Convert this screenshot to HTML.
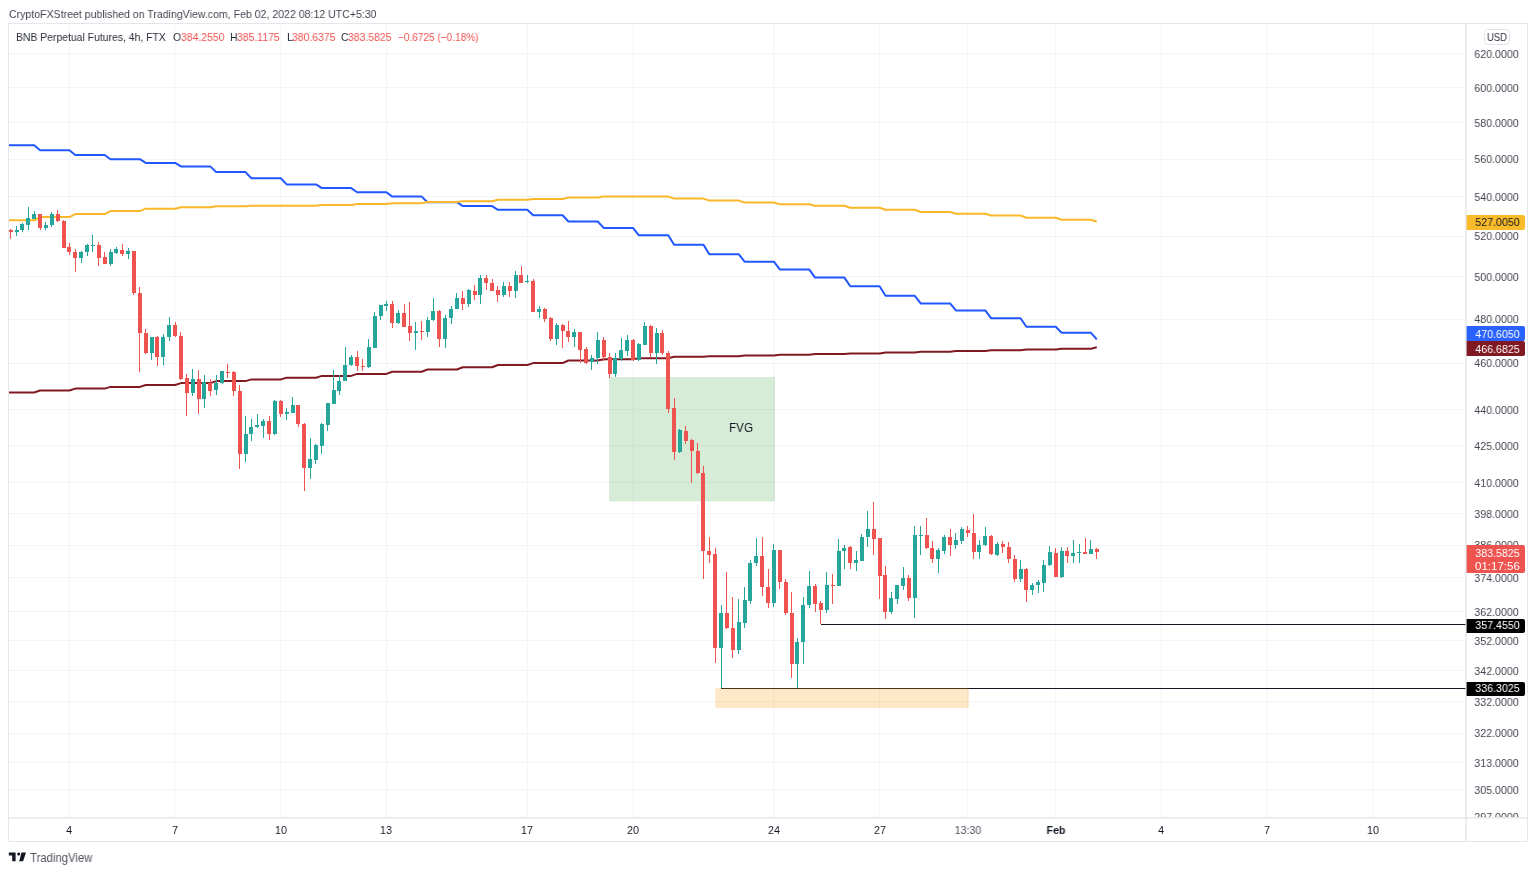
<!DOCTYPE html>
<html><head><meta charset="utf-8"><style>
*{margin:0;padding:0;box-sizing:border-box}
html,body{width:1536px;height:873px;background:#fff;overflow:hidden;font-family:"Liberation Sans",sans-serif;color:#131722}
.t{position:absolute;white-space:nowrap;will-change:transform}
</style></head><body>
<svg width="1536" height="873" style="position:absolute;left:0;top:0">
<line x1="9" x2="1466" y1="53.5" y2="53.5" stroke="#f3f4f6" stroke-width="1"/><line x1="9" x2="1466" y1="87.5" y2="87.5" stroke="#f3f4f6" stroke-width="1"/><line x1="9" x2="1466" y1="122.5" y2="122.5" stroke="#f3f4f6" stroke-width="1"/><line x1="9" x2="1466" y1="159.5" y2="159.5" stroke="#f3f4f6" stroke-width="1"/><line x1="9" x2="1466" y1="196.5" y2="196.5" stroke="#f3f4f6" stroke-width="1"/><line x1="9" x2="1466" y1="236.5" y2="236.5" stroke="#f3f4f6" stroke-width="1"/><line x1="9" x2="1466" y1="276.5" y2="276.5" stroke="#f3f4f6" stroke-width="1"/><line x1="9" x2="1466" y1="319.5" y2="319.5" stroke="#f3f4f6" stroke-width="1"/><line x1="9" x2="1466" y1="363.5" y2="363.5" stroke="#f3f4f6" stroke-width="1"/><line x1="9" x2="1466" y1="409.5" y2="409.5" stroke="#f3f4f6" stroke-width="1"/><line x1="9" x2="1466" y1="445.5" y2="445.5" stroke="#f3f4f6" stroke-width="1"/><line x1="9" x2="1466" y1="482.5" y2="482.5" stroke="#f3f4f6" stroke-width="1"/><line x1="9" x2="1466" y1="513.5" y2="513.5" stroke="#f3f4f6" stroke-width="1"/><line x1="9" x2="1466" y1="545.5" y2="545.5" stroke="#f3f4f6" stroke-width="1"/><line x1="9" x2="1466" y1="577.5" y2="577.5" stroke="#f3f4f6" stroke-width="1"/><line x1="9" x2="1466" y1="611.5" y2="611.5" stroke="#f3f4f6" stroke-width="1"/><line x1="9" x2="1466" y1="640.5" y2="640.5" stroke="#f3f4f6" stroke-width="1"/><line x1="9" x2="1466" y1="670.5" y2="670.5" stroke="#f3f4f6" stroke-width="1"/><line x1="9" x2="1466" y1="701.5" y2="701.5" stroke="#f3f4f6" stroke-width="1"/><line x1="9" x2="1466" y1="733.5" y2="733.5" stroke="#f3f4f6" stroke-width="1"/><line x1="9" x2="1466" y1="762.5" y2="762.5" stroke="#f3f4f6" stroke-width="1"/><line x1="9" x2="1466" y1="789.5" y2="789.5" stroke="#f3f4f6" stroke-width="1"/><line x1="9" x2="1466" y1="817.5" y2="817.5" stroke="#f3f4f6" stroke-width="1"/>
<line x1="69.41" x2="69.41" y1="24" y2="818" stroke="#f3f4f6" stroke-width="1"/><line x1="175.09" x2="175.09" y1="24" y2="818" stroke="#f3f4f6" stroke-width="1"/><line x1="280.77" x2="280.77" y1="24" y2="818" stroke="#f3f4f6" stroke-width="1"/><line x1="386.44" x2="386.44" y1="24" y2="818" stroke="#f3f4f6" stroke-width="1"/><line x1="527.35" x2="527.35" y1="24" y2="818" stroke="#f3f4f6" stroke-width="1"/><line x1="633.03" x2="633.03" y1="24" y2="818" stroke="#f3f4f6" stroke-width="1"/><line x1="773.93" x2="773.93" y1="24" y2="818" stroke="#f3f4f6" stroke-width="1"/><line x1="879.61" x2="879.61" y1="24" y2="818" stroke="#f3f4f6" stroke-width="1"/><line x1="967.67" x2="967.67" y1="24" y2="818" stroke="#f3f4f6" stroke-width="1"/><line x1="1055.74" x2="1055.74" y1="24" y2="818" stroke="#f3f4f6" stroke-width="1"/><line x1="1161.42" x2="1161.42" y1="24" y2="818" stroke="#f3f4f6" stroke-width="1"/><line x1="1267.09" x2="1267.09" y1="24" y2="818" stroke="#f3f4f6" stroke-width="1"/><line x1="1372.77" x2="1372.77" y1="24" y2="818" stroke="#f3f4f6" stroke-width="1"/>
<rect x="609" y="377" width="166" height="124.5" fill="rgb(76,175,80)" fill-opacity="0.23"/>
<polyline points="8.5,145.3 10.7,145.3 16.6,145.3 22.4,145.3 28.3,145.3 34.2,145.3 40.1,150.3 45.9,150.3 51.8,150.3 57.7,150.3 63.5,150.3 69.4,150.3 75.3,155.0 81.2,155.0 87.0,155.0 92.9,155.0 98.8,155.0 104.6,155.0 110.5,159.2 116.4,159.2 122.2,159.2 128.1,159.2 134.0,159.2 139.9,159.2 145.7,162.9 151.6,162.9 157.5,162.9 163.3,162.9 169.2,162.9 175.1,162.9 181.0,166.4 186.8,166.4 192.7,166.4 198.6,166.4 204.4,166.4 210.3,166.4 216.2,172.1 222.1,172.1 227.9,172.1 233.8,172.1 239.7,172.1 245.5,172.1 251.4,178.2 257.3,178.2 263.2,178.2 269.0,178.2 274.9,178.2 280.8,178.2 286.6,184.4 292.5,184.4 298.4,184.4 304.2,184.4 310.1,184.4 316.0,184.4 321.9,188.1 327.7,188.1 333.6,188.1 339.5,188.1 345.3,188.1 351.2,188.1 357.1,192.2 363.0,192.2 368.8,192.2 374.7,192.2 380.6,192.2 386.4,192.2 392.3,196.6 398.2,196.6 404.1,196.6 409.9,196.6 415.8,196.6 421.7,196.6 427.5,202.2 433.4,202.2 439.3,202.2 445.2,202.2 451.0,202.2 456.9,202.2 462.8,206.1 468.6,206.1 474.5,206.1 480.4,206.1 486.3,206.1 492.1,206.1 498.0,209.8 503.9,209.8 509.7,209.8 515.6,209.8 521.5,209.8 527.3,209.8 533.2,215.3 539.1,215.3 545.0,215.3 550.8,215.3 556.7,215.3 562.6,215.3 568.4,221.5 574.3,221.5 580.2,221.5 586.1,221.5 591.9,221.5 597.8,221.5 603.7,227.9 609.5,227.9 615.4,227.9 621.3,227.9 627.2,227.9 633.0,227.9 638.9,235.3 644.8,235.3 650.6,235.3 656.5,235.3 662.4,235.3 668.3,235.3 674.1,244.7 680.0,244.7 685.9,244.7 691.7,244.7 697.6,244.7 703.5,244.7 709.3,254.2 715.2,254.2 721.1,254.2 727.0,254.2 732.8,254.2 738.7,254.2 744.6,261.7 750.4,261.7 756.3,261.7 762.2,261.7 768.1,261.7 773.9,261.7 779.8,269.4 785.7,269.4 791.5,269.4 797.4,269.4 803.3,269.4 809.2,269.4 815.0,277.6 820.9,277.6 826.8,277.6 832.6,277.6 838.5,277.6 844.4,277.6 850.3,286.3 856.1,286.3 862.0,286.3 867.9,286.3 873.7,286.3 879.6,286.3 885.5,295.8 891.4,295.8 897.2,295.8 903.1,295.8 909.0,295.8 914.8,295.8 920.7,303.4 926.6,303.4 932.4,303.4 938.3,303.4 944.2,303.4 950.1,303.4 955.9,310.4 961.8,310.4 967.7,310.4 973.5,310.4 979.4,310.4 985.3,310.4 991.2,318.3 997.0,318.3 1002.9,318.3 1008.8,318.3 1014.6,318.3 1020.5,318.3 1026.4,326.8 1032.3,326.8 1038.1,326.8 1044.0,326.8 1049.9,326.8 1055.7,326.8 1061.6,332.8 1067.5,332.8 1073.4,332.8 1079.2,332.8 1085.1,332.8 1091.0,332.8 1096.8,339.4" fill="none" stroke="#2157ff" stroke-width="2" stroke-linejoin="round"/>
<polyline points="8.5,220.3 10.7,220.3 16.6,220.3 22.4,220.3 28.3,220.3 34.2,220.3 40.1,217.1 45.9,217.1 51.8,217.1 57.7,217.1 63.5,217.1 69.4,217.1 75.3,214.1 81.2,214.1 87.0,214.1 92.9,214.1 98.8,214.1 104.6,214.1 110.5,211.1 116.4,211.1 122.2,211.1 128.1,211.1 134.0,211.1 139.9,211.1 145.7,208.7 151.6,208.7 157.5,208.7 163.3,208.7 169.2,208.7 175.1,208.7 181.0,207.2 186.8,207.2 192.7,207.2 198.6,207.2 204.4,207.2 210.3,207.2 216.2,206.2 222.1,206.2 227.9,206.2 233.8,206.2 239.7,206.2 245.5,206.2 251.4,205.7 257.3,205.7 263.2,205.7 269.0,205.7 274.9,205.7 280.8,205.7 286.6,205.7 292.5,205.7 298.4,205.7 304.2,205.7 310.1,205.7 316.0,205.7 321.9,205.0 327.7,205.0 333.6,205.0 339.5,205.0 345.3,205.0 351.2,205.0 357.1,204.0 363.0,204.0 368.8,204.0 374.7,204.0 380.6,204.0 386.4,204.0 392.3,203.2 398.2,203.2 404.1,203.2 409.9,203.2 415.8,203.2 421.7,203.2 427.5,201.9 433.4,201.9 439.3,201.9 445.2,201.9 451.0,201.9 456.9,201.9 462.8,201.2 468.6,201.2 474.5,201.2 480.4,201.2 486.3,201.2 492.1,201.2 498.0,199.7 503.9,199.7 509.7,199.7 515.6,199.7 521.5,199.7 527.3,199.7 533.2,199.0 539.1,199.0 545.0,199.0 550.8,199.0 556.7,199.0 562.6,199.0 568.4,197.5 574.3,197.5 580.2,197.5 586.1,197.5 591.9,197.5 597.8,197.5 603.7,196.6 609.5,196.6 615.4,196.6 621.3,196.6 627.2,196.6 633.0,196.6 638.9,196.6 644.8,196.6 650.6,196.6 656.5,196.6 662.4,196.6 668.3,196.6 674.1,198.6 680.0,198.6 685.9,198.6 691.7,198.6 697.6,198.6 703.5,198.6 709.3,200.6 715.2,200.6 721.1,200.6 727.0,200.6 732.8,200.6 738.7,200.6 744.6,202.5 750.4,202.5 756.3,202.5 762.2,202.5 768.1,202.5 773.9,202.5 779.8,204.2 785.7,204.2 791.5,204.2 797.4,204.2 803.3,204.2 809.2,204.2 815.0,205.8 820.9,205.8 826.8,205.8 832.6,205.8 838.5,205.8 844.4,205.8 850.3,207.8 856.1,207.8 862.0,207.8 867.9,207.8 873.7,207.8 879.6,207.8 885.5,209.8 891.4,209.8 897.2,209.8 903.1,209.8 909.0,209.8 914.8,209.8 920.7,212.0 926.6,212.0 932.4,212.0 938.3,212.0 944.2,212.0 950.1,212.0 955.9,213.8 961.8,213.8 967.7,213.8 973.5,213.8 979.4,213.8 985.3,213.8 991.2,215.5 997.0,215.5 1002.9,215.5 1008.8,215.5 1014.6,215.5 1020.5,215.5 1026.4,217.7 1032.3,217.7 1038.1,217.7 1044.0,217.7 1049.9,217.7 1055.7,217.7 1061.6,219.7 1067.5,219.7 1073.4,219.7 1079.2,219.7 1085.1,219.7 1091.0,219.7 1096.8,221.7" fill="none" stroke="#fab72a" stroke-width="2" stroke-linejoin="round"/>
<polyline points="8.5,392.5 10.7,392.5 16.6,392.5 22.4,392.5 28.3,392.5 34.2,392.5 40.1,390.5 45.9,390.5 51.8,390.5 57.7,390.5 63.5,390.5 69.4,390.5 75.3,388.6 81.2,388.6 87.0,388.6 92.9,388.6 98.8,388.6 104.6,388.6 110.5,386.9 116.4,386.9 122.2,386.9 128.1,386.9 134.0,386.9 139.9,386.9 145.7,385.0 151.6,385.0 157.5,385.0 163.3,385.0 169.2,385.0 175.1,385.0 181.0,383.1 186.8,383.1 192.7,383.1 198.6,383.1 204.4,383.1 210.3,383.1 216.2,381.1 222.1,381.1 227.9,381.1 233.8,381.1 239.7,381.1 245.5,381.1 251.4,379.4 257.3,379.4 263.2,379.4 269.0,379.4 274.9,379.4 280.8,379.4 286.6,377.8 292.5,377.8 298.4,377.8 304.2,377.8 310.1,377.8 316.0,377.8 321.9,375.9 327.7,375.9 333.6,375.9 339.5,375.9 345.3,375.9 351.2,375.9 357.1,373.9 363.0,373.9 368.8,373.9 374.7,373.9 380.6,373.9 386.4,373.9 392.3,371.7 398.2,371.7 404.1,371.7 409.9,371.7 415.8,371.7 421.7,371.7 427.5,369.5 433.4,369.5 439.3,369.5 445.2,369.5 451.0,369.5 456.9,369.5 462.8,367.3 468.6,367.3 474.5,367.3 480.4,367.3 486.3,367.3 492.1,367.3 498.0,365.0 503.9,365.0 509.7,365.0 515.6,365.0 521.5,365.0 527.3,365.0 533.2,363.1 539.1,363.1 545.0,363.1 550.8,363.1 556.7,363.1 562.6,363.1 568.4,360.5 574.3,360.5 580.2,360.5 586.1,360.5 591.9,360.5 597.8,360.5 603.7,359.2 609.5,359.2 615.4,359.2 621.3,359.2 627.2,359.2 633.0,359.2 638.9,358.2 644.8,358.2 650.6,358.2 656.5,358.2 662.4,358.2 668.3,358.2 674.1,356.8 680.0,356.8 685.9,356.8 691.7,356.8 697.6,356.8 703.5,356.8 709.3,356.2 715.2,356.2 721.1,356.2 727.0,356.2 732.8,356.2 738.7,356.2 744.6,355.4 750.4,355.4 756.3,355.4 762.2,355.4 768.1,355.4 773.9,355.4 779.8,354.7 785.7,354.7 791.5,354.7 797.4,354.7 803.3,354.7 809.2,354.7 815.0,354.1 820.9,354.1 826.8,354.1 832.6,354.1 838.5,354.1 844.4,354.1 850.3,353.5 856.1,353.5 862.0,353.5 867.9,353.5 873.7,353.5 879.6,353.5 885.5,352.6 891.4,352.6 897.2,352.6 903.1,352.6 909.0,352.6 914.8,352.6 920.7,351.7 926.6,351.7 932.4,351.7 938.3,351.7 944.2,351.7 950.1,351.7 955.9,350.9 961.8,350.9 967.7,350.9 973.5,350.9 979.4,350.9 985.3,350.9 991.2,350.3 997.0,350.3 1002.9,350.3 1008.8,350.3 1014.6,350.3 1020.5,350.3 1026.4,349.5 1032.3,349.5 1038.1,349.5 1044.0,349.5 1049.9,349.5 1055.7,349.5 1061.6,348.7 1067.5,348.7 1073.4,348.7 1079.2,348.7 1085.1,348.7 1091.0,348.7 1096.8,347.3" fill="none" stroke="#801922" stroke-width="2" stroke-linejoin="round"/>
<g shape-rendering="crispEdges">
<rect x="10" y="229" width="1" height="10" fill="#ef5350"/>
<rect x="16" y="226" width="1" height="10" fill="#26a69a"/>
<rect x="22" y="223" width="1" height="9" fill="#26a69a"/>
<rect x="28" y="207" width="1" height="23" fill="#26a69a"/>
<rect x="34" y="211" width="1" height="8" fill="#26a69a"/>
<rect x="40" y="214" width="1" height="16" fill="#ef5350"/>
<rect x="45" y="222" width="1" height="8" fill="#26a69a"/>
<rect x="51" y="212" width="1" height="15" fill="#26a69a"/>
<rect x="57" y="210" width="1" height="12" fill="#ef5350"/>
<rect x="63" y="220" width="1" height="28" fill="#ef5350"/>
<rect x="69" y="243" width="1" height="12" fill="#ef5350"/>
<rect x="75" y="249" width="1" height="23" fill="#ef5350"/>
<rect x="81" y="251" width="1" height="12" fill="#26a69a"/>
<rect x="87" y="244" width="1" height="12" fill="#26a69a"/>
<rect x="92" y="235" width="1" height="17" fill="#26a69a"/>
<rect x="98" y="242" width="1" height="24" fill="#ef5350"/>
<rect x="104" y="252" width="1" height="12" fill="#ef5350"/>
<rect x="110" y="249" width="1" height="17" fill="#26a69a"/>
<rect x="116" y="247" width="1" height="7" fill="#26a69a"/>
<rect x="122" y="244" width="1" height="12" fill="#ef5350"/>
<rect x="128" y="248" width="1" height="11" fill="#26a69a"/>
<rect x="133" y="251" width="1" height="44" fill="#ef5350"/>
<rect x="139" y="287" width="1" height="85" fill="#ef5350"/>
<rect x="145" y="329" width="1" height="25" fill="#ef5350"/>
<rect x="151" y="337" width="1" height="23" fill="#26a69a"/>
<rect x="157" y="336" width="1" height="30" fill="#ef5350"/>
<rect x="163" y="334" width="1" height="31" fill="#26a69a"/>
<rect x="169" y="317" width="1" height="24" fill="#26a69a"/>
<rect x="175" y="322" width="1" height="15" fill="#ef5350"/>
<rect x="180" y="332" width="1" height="48" fill="#ef5350"/>
<rect x="186" y="374" width="1" height="42" fill="#ef5350"/>
<rect x="192" y="369" width="1" height="27" fill="#26a69a"/>
<rect x="198" y="370" width="1" height="44" fill="#ef5350"/>
<rect x="204" y="375" width="1" height="33" fill="#26a69a"/>
<rect x="210" y="379" width="1" height="17" fill="#ef5350"/>
<rect x="216" y="375" width="1" height="20" fill="#26a69a"/>
<rect x="222" y="371" width="1" height="13" fill="#26a69a"/>
<rect x="227" y="364" width="1" height="14" fill="#ef5350"/>
<rect x="233" y="371" width="1" height="25" fill="#ef5350"/>
<rect x="239" y="385" width="1" height="84" fill="#ef5350"/>
<rect x="245" y="416" width="1" height="46" fill="#26a69a"/>
<rect x="251" y="419" width="1" height="22" fill="#26a69a"/>
<rect x="257" y="414" width="1" height="14" fill="#26a69a"/>
<rect x="263" y="419" width="1" height="19" fill="#26a69a"/>
<rect x="269" y="416" width="1" height="24" fill="#ef5350"/>
<rect x="274" y="400" width="1" height="35" fill="#26a69a"/>
<rect x="280" y="400" width="1" height="17" fill="#ef5350"/>
<rect x="286" y="408" width="1" height="12" fill="#26a69a"/>
<rect x="292" y="397" width="1" height="16" fill="#26a69a"/>
<rect x="298" y="405" width="1" height="22" fill="#ef5350"/>
<rect x="304" y="423" width="1" height="68" fill="#ef5350"/>
<rect x="310" y="438" width="1" height="41" fill="#26a69a"/>
<rect x="315" y="444" width="1" height="20" fill="#26a69a"/>
<rect x="321" y="423" width="1" height="31" fill="#26a69a"/>
<rect x="327" y="403" width="1" height="28" fill="#26a69a"/>
<rect x="333" y="370" width="1" height="34" fill="#26a69a"/>
<rect x="339" y="375" width="1" height="20" fill="#26a69a"/>
<rect x="345" y="347" width="1" height="34" fill="#26a69a"/>
<rect x="351" y="355" width="1" height="11" fill="#26a69a"/>
<rect x="357" y="351" width="1" height="20" fill="#ef5350"/>
<rect x="362" y="359" width="1" height="12" fill="#ef5350"/>
<rect x="368" y="339" width="1" height="29" fill="#26a69a"/>
<rect x="374" y="312" width="1" height="36" fill="#26a69a"/>
<rect x="380" y="305" width="1" height="15" fill="#26a69a"/>
<rect x="386" y="301" width="1" height="10" fill="#26a69a"/>
<rect x="392" y="301" width="1" height="27" fill="#ef5350"/>
<rect x="398" y="310" width="1" height="14" fill="#26a69a"/>
<rect x="404" y="304" width="1" height="23" fill="#ef5350"/>
<rect x="409" y="302" width="1" height="39" fill="#ef5350"/>
<rect x="415" y="322" width="1" height="28" fill="#26a69a"/>
<rect x="421" y="321" width="1" height="19" fill="#ef5350"/>
<rect x="427" y="317" width="1" height="20" fill="#26a69a"/>
<rect x="433" y="298" width="1" height="23" fill="#26a69a"/>
<rect x="439" y="310" width="1" height="37" fill="#ef5350"/>
<rect x="445" y="315" width="1" height="33" fill="#26a69a"/>
<rect x="451" y="306" width="1" height="18" fill="#26a69a"/>
<rect x="456" y="293" width="1" height="16" fill="#26a69a"/>
<rect x="462" y="291" width="1" height="19" fill="#ef5350"/>
<rect x="468" y="289" width="1" height="18" fill="#26a69a"/>
<rect x="474" y="285" width="1" height="15" fill="#ef5350"/>
<rect x="480" y="275" width="1" height="29" fill="#26a69a"/>
<rect x="486" y="275" width="1" height="15" fill="#ef5350"/>
<rect x="492" y="279" width="1" height="12" fill="#ef5350"/>
<rect x="497" y="286" width="1" height="16" fill="#ef5350"/>
<rect x="503" y="282" width="1" height="15" fill="#26a69a"/>
<rect x="509" y="282" width="1" height="15" fill="#ef5350"/>
<rect x="515" y="271" width="1" height="27" fill="#26a69a"/>
<rect x="521" y="266" width="1" height="17" fill="#ef5350"/>
<rect x="527" y="275" width="1" height="8" fill="#26a69a"/>
<rect x="533" y="279" width="1" height="33" fill="#ef5350"/>
<rect x="539" y="306" width="1" height="12" fill="#26a69a"/>
<rect x="544" y="308" width="1" height="14" fill="#ef5350"/>
<rect x="550" y="317" width="1" height="24" fill="#ef5350"/>
<rect x="556" y="323" width="1" height="22" fill="#26a69a"/>
<rect x="562" y="324" width="1" height="24" fill="#ef5350"/>
<rect x="568" y="321" width="1" height="21" fill="#ef5350"/>
<rect x="574" y="329" width="1" height="18" fill="#26a69a"/>
<rect x="580" y="332" width="1" height="31" fill="#ef5350"/>
<rect x="586" y="347" width="1" height="17" fill="#ef5350"/>
<rect x="591" y="355" width="1" height="15" fill="#26a69a"/>
<rect x="597" y="332" width="1" height="32" fill="#26a69a"/>
<rect x="603" y="337" width="1" height="24" fill="#ef5350"/>
<rect x="609" y="353" width="1" height="25" fill="#ef5350"/>
<rect x="615" y="353" width="1" height="24" fill="#26a69a"/>
<rect x="621" y="338" width="1" height="23" fill="#26a69a"/>
<rect x="627" y="335" width="1" height="21" fill="#26a69a"/>
<rect x="633" y="339" width="1" height="22" fill="#ef5350"/>
<rect x="638" y="343" width="1" height="18" fill="#26a69a"/>
<rect x="644" y="322" width="1" height="23" fill="#26a69a"/>
<rect x="650" y="325" width="1" height="32" fill="#ef5350"/>
<rect x="656" y="328" width="1" height="36" fill="#26a69a"/>
<rect x="662" y="330" width="1" height="25" fill="#ef5350"/>
<rect x="668" y="351" width="1" height="62" fill="#ef5350"/>
<rect x="674" y="398" width="1" height="62" fill="#ef5350"/>
<rect x="679" y="429" width="1" height="24" fill="#26a69a"/>
<rect x="685" y="426" width="1" height="18" fill="#ef5350"/>
<rect x="691" y="439" width="1" height="44" fill="#ef5350"/>
<rect x="697" y="443" width="1" height="31" fill="#ef5350"/>
<rect x="703" y="466" width="1" height="113" fill="#ef5350"/>
<rect x="709" y="537" width="1" height="26" fill="#ef5350"/>
<rect x="715" y="548" width="1" height="115" fill="#ef5350"/>
<rect x="721" y="605" width="1" height="83" fill="#26a69a"/>
<rect x="726" y="572" width="1" height="57" fill="#ef5350"/>
<rect x="732" y="597" width="1" height="61" fill="#ef5350"/>
<rect x="738" y="599" width="1" height="55" fill="#26a69a"/>
<rect x="744" y="587" width="1" height="41" fill="#26a69a"/>
<rect x="750" y="560" width="1" height="44" fill="#26a69a"/>
<rect x="756" y="538" width="1" height="28" fill="#26a69a"/>
<rect x="762" y="537" width="1" height="59" fill="#ef5350"/>
<rect x="768" y="569" width="1" height="39" fill="#ef5350"/>
<rect x="773" y="544" width="1" height="63" fill="#26a69a"/>
<rect x="779" y="550" width="1" height="39" fill="#ef5350"/>
<rect x="785" y="579" width="1" height="36" fill="#ef5350"/>
<rect x="791" y="592" width="1" height="86" fill="#ef5350"/>
<rect x="797" y="638" width="1" height="51" fill="#26a69a"/>
<rect x="803" y="597" width="1" height="67" fill="#26a69a"/>
<rect x="809" y="571" width="1" height="37" fill="#26a69a"/>
<rect x="815" y="584" width="1" height="28" fill="#ef5350"/>
<rect x="820" y="601" width="1" height="23" fill="#ef5350"/>
<rect x="826" y="572" width="1" height="41" fill="#26a69a"/>
<rect x="832" y="574" width="1" height="30" fill="#ef5350"/>
<rect x="838" y="539" width="1" height="47" fill="#26a69a"/>
<rect x="844" y="545" width="1" height="24" fill="#26a69a"/>
<rect x="850" y="546" width="1" height="23" fill="#ef5350"/>
<rect x="856" y="551" width="1" height="20" fill="#26a69a"/>
<rect x="861" y="534" width="1" height="27" fill="#26a69a"/>
<rect x="867" y="511" width="1" height="36" fill="#26a69a"/>
<rect x="873" y="502" width="1" height="53" fill="#ef5350"/>
<rect x="879" y="538" width="1" height="61" fill="#ef5350"/>
<rect x="885" y="566" width="1" height="53" fill="#ef5350"/>
<rect x="891" y="592" width="1" height="22" fill="#26a69a"/>
<rect x="897" y="585" width="1" height="19" fill="#26a69a"/>
<rect x="903" y="567" width="1" height="23" fill="#26a69a"/>
<rect x="908" y="575" width="1" height="26" fill="#ef5350"/>
<rect x="914" y="526" width="1" height="92" fill="#26a69a"/>
<rect x="920" y="526" width="1" height="29" fill="#26a69a"/>
<rect x="926" y="518" width="1" height="31" fill="#ef5350"/>
<rect x="932" y="541" width="1" height="22" fill="#ef5350"/>
<rect x="938" y="548" width="1" height="25" fill="#26a69a"/>
<rect x="944" y="535" width="1" height="19" fill="#26a69a"/>
<rect x="950" y="529" width="1" height="27" fill="#ef5350"/>
<rect x="955" y="533" width="1" height="16" fill="#26a69a"/>
<rect x="961" y="527" width="1" height="17" fill="#26a69a"/>
<rect x="967" y="526" width="1" height="11" fill="#ef5350"/>
<rect x="973" y="514" width="1" height="45" fill="#ef5350"/>
<rect x="979" y="540" width="1" height="19" fill="#26a69a"/>
<rect x="985" y="527" width="1" height="19" fill="#26a69a"/>
<rect x="991" y="535" width="1" height="20" fill="#ef5350"/>
<rect x="997" y="542" width="1" height="14" fill="#26a69a"/>
<rect x="1002" y="541" width="1" height="12" fill="#ef5350"/>
<rect x="1008" y="542" width="1" height="21" fill="#ef5350"/>
<rect x="1014" y="555" width="1" height="27" fill="#ef5350"/>
<rect x="1020" y="560" width="1" height="22" fill="#26a69a"/>
<rect x="1026" y="568" width="1" height="34" fill="#ef5350"/>
<rect x="1032" y="583" width="1" height="12" fill="#26a69a"/>
<rect x="1038" y="580" width="1" height="13" fill="#26a69a"/>
<rect x="1043" y="560" width="1" height="32" fill="#26a69a"/>
<rect x="1049" y="546" width="1" height="20" fill="#26a69a"/>
<rect x="1055" y="548" width="1" height="29" fill="#ef5350"/>
<rect x="1061" y="547" width="1" height="31" fill="#26a69a"/>
<rect x="1067" y="547" width="1" height="16" fill="#ef5350"/>
<rect x="1073" y="540" width="1" height="23" fill="#26a69a"/>
<rect x="1079" y="544" width="1" height="19" fill="#26a69a"/>
<rect x="1085" y="538" width="1" height="16" fill="#ef5350"/>
<rect x="1090" y="540" width="1" height="14" fill="#26a69a"/>
<rect x="1096" y="548" width="1" height="11" fill="#ef5350"/>
<rect x="9" y="230" width="4" height="2" fill="#ef5350"/>
<rect x="15" y="230" width="4" height="2" fill="#26a69a"/>
<rect x="20" y="224" width="4" height="6" fill="#26a69a"/>
<rect x="26" y="218" width="4" height="7" fill="#26a69a"/>
<rect x="32" y="214" width="4" height="5" fill="#26a69a"/>
<rect x="38" y="214" width="4" height="14" fill="#ef5350"/>
<rect x="44" y="225" width="4" height="3" fill="#26a69a"/>
<rect x="50" y="214" width="4" height="11" fill="#26a69a"/>
<rect x="56" y="214" width="4" height="7" fill="#ef5350"/>
<rect x="62" y="221" width="4" height="27" fill="#ef5350"/>
<rect x="67" y="247" width="4" height="5" fill="#ef5350"/>
<rect x="73" y="252" width="4" height="6" fill="#ef5350"/>
<rect x="79" y="252" width="4" height="6" fill="#26a69a"/>
<rect x="85" y="245" width="4" height="7" fill="#26a69a"/>
<rect x="91" y="245" width="4" height="1" fill="#26a69a"/>
<rect x="97" y="245" width="4" height="13" fill="#ef5350"/>
<rect x="103" y="257" width="4" height="7" fill="#ef5350"/>
<rect x="109" y="252" width="4" height="12" fill="#26a69a"/>
<rect x="114" y="249" width="4" height="4" fill="#26a69a"/>
<rect x="120" y="250" width="4" height="4" fill="#ef5350"/>
<rect x="126" y="251" width="4" height="3" fill="#26a69a"/>
<rect x="132" y="251" width="4" height="42" fill="#ef5350"/>
<rect x="138" y="293" width="4" height="40" fill="#ef5350"/>
<rect x="144" y="333" width="4" height="20" fill="#ef5350"/>
<rect x="150" y="337" width="4" height="16" fill="#26a69a"/>
<rect x="155" y="337" width="4" height="20" fill="#ef5350"/>
<rect x="161" y="337" width="4" height="20" fill="#26a69a"/>
<rect x="167" y="325" width="4" height="12" fill="#26a69a"/>
<rect x="173" y="325" width="4" height="11" fill="#ef5350"/>
<rect x="179" y="336" width="4" height="43" fill="#ef5350"/>
<rect x="185" y="378" width="4" height="15" fill="#ef5350"/>
<rect x="191" y="379" width="4" height="14" fill="#26a69a"/>
<rect x="197" y="379" width="4" height="20" fill="#ef5350"/>
<rect x="202" y="382" width="4" height="17" fill="#26a69a"/>
<rect x="208" y="383" width="4" height="8" fill="#ef5350"/>
<rect x="214" y="383" width="4" height="7" fill="#26a69a"/>
<rect x="220" y="371" width="4" height="12" fill="#26a69a"/>
<rect x="226" y="372" width="4" height="1" fill="#ef5350"/>
<rect x="232" y="372" width="4" height="19" fill="#ef5350"/>
<rect x="238" y="391" width="4" height="63" fill="#ef5350"/>
<rect x="244" y="434" width="4" height="20" fill="#26a69a"/>
<rect x="249" y="427" width="4" height="7" fill="#26a69a"/>
<rect x="255" y="425" width="4" height="2" fill="#26a69a"/>
<rect x="261" y="421" width="4" height="5" fill="#26a69a"/>
<rect x="267" y="421" width="4" height="13" fill="#ef5350"/>
<rect x="273" y="401" width="4" height="33" fill="#26a69a"/>
<rect x="279" y="401" width="4" height="13" fill="#ef5350"/>
<rect x="285" y="412" width="4" height="2" fill="#26a69a"/>
<rect x="291" y="405" width="4" height="8" fill="#26a69a"/>
<rect x="296" y="405" width="4" height="19" fill="#ef5350"/>
<rect x="302" y="424" width="4" height="44" fill="#ef5350"/>
<rect x="308" y="459" width="4" height="9" fill="#26a69a"/>
<rect x="314" y="445" width="4" height="15" fill="#26a69a"/>
<rect x="320" y="424" width="4" height="22" fill="#26a69a"/>
<rect x="326" y="403" width="4" height="22" fill="#26a69a"/>
<rect x="332" y="390" width="4" height="14" fill="#26a69a"/>
<rect x="337" y="381" width="4" height="10" fill="#26a69a"/>
<rect x="343" y="365" width="4" height="16" fill="#26a69a"/>
<rect x="349" y="357" width="4" height="8" fill="#26a69a"/>
<rect x="355" y="357" width="4" height="9" fill="#ef5350"/>
<rect x="361" y="366" width="4" height="1" fill="#ef5350"/>
<rect x="367" y="347" width="4" height="20" fill="#26a69a"/>
<rect x="373" y="316" width="4" height="32" fill="#26a69a"/>
<rect x="379" y="305" width="4" height="11" fill="#26a69a"/>
<rect x="384" y="304" width="4" height="2" fill="#26a69a"/>
<rect x="390" y="304" width="4" height="19" fill="#ef5350"/>
<rect x="396" y="313" width="4" height="10" fill="#26a69a"/>
<rect x="402" y="313" width="4" height="14" fill="#ef5350"/>
<rect x="408" y="326" width="4" height="7" fill="#ef5350"/>
<rect x="414" y="331" width="4" height="2" fill="#26a69a"/>
<rect x="420" y="331" width="4" height="1" fill="#ef5350"/>
<rect x="426" y="320" width="4" height="12" fill="#26a69a"/>
<rect x="431" y="311" width="4" height="9" fill="#26a69a"/>
<rect x="437" y="311" width="4" height="28" fill="#ef5350"/>
<rect x="443" y="318" width="4" height="21" fill="#26a69a"/>
<rect x="449" y="309" width="4" height="9" fill="#26a69a"/>
<rect x="455" y="298" width="4" height="11" fill="#26a69a"/>
<rect x="461" y="298" width="4" height="6" fill="#ef5350"/>
<rect x="467" y="290" width="4" height="14" fill="#26a69a"/>
<rect x="473" y="291" width="4" height="4" fill="#ef5350"/>
<rect x="478" y="278" width="4" height="17" fill="#26a69a"/>
<rect x="484" y="278" width="4" height="5" fill="#ef5350"/>
<rect x="490" y="283" width="4" height="8" fill="#ef5350"/>
<rect x="496" y="290" width="4" height="5" fill="#ef5350"/>
<rect x="502" y="286" width="4" height="9" fill="#26a69a"/>
<rect x="508" y="286" width="4" height="5" fill="#ef5350"/>
<rect x="514" y="275" width="4" height="16" fill="#26a69a"/>
<rect x="519" y="275" width="4" height="8" fill="#ef5350"/>
<rect x="525" y="281" width="4" height="1" fill="#26a69a"/>
<rect x="531" y="281" width="4" height="31" fill="#ef5350"/>
<rect x="537" y="309" width="4" height="3" fill="#26a69a"/>
<rect x="543" y="309" width="4" height="10" fill="#ef5350"/>
<rect x="549" y="318" width="4" height="21" fill="#ef5350"/>
<rect x="555" y="325" width="4" height="14" fill="#26a69a"/>
<rect x="561" y="325" width="4" height="6" fill="#ef5350"/>
<rect x="566" y="331" width="4" height="6" fill="#ef5350"/>
<rect x="572" y="332" width="4" height="5" fill="#26a69a"/>
<rect x="578" y="332" width="4" height="18" fill="#ef5350"/>
<rect x="584" y="349" width="4" height="14" fill="#ef5350"/>
<rect x="590" y="358" width="4" height="4" fill="#26a69a"/>
<rect x="596" y="340" width="4" height="18" fill="#26a69a"/>
<rect x="602" y="340" width="4" height="17" fill="#ef5350"/>
<rect x="608" y="357" width="4" height="17" fill="#ef5350"/>
<rect x="613" y="358" width="4" height="16" fill="#26a69a"/>
<rect x="619" y="350" width="4" height="9" fill="#26a69a"/>
<rect x="625" y="340" width="4" height="11" fill="#26a69a"/>
<rect x="631" y="340" width="4" height="20" fill="#ef5350"/>
<rect x="637" y="344" width="4" height="16" fill="#26a69a"/>
<rect x="643" y="326" width="4" height="19" fill="#26a69a"/>
<rect x="649" y="326" width="4" height="27" fill="#ef5350"/>
<rect x="655" y="333" width="4" height="20" fill="#26a69a"/>
<rect x="660" y="333" width="4" height="20" fill="#ef5350"/>
<rect x="666" y="353" width="4" height="56" fill="#ef5350"/>
<rect x="672" y="408" width="4" height="44" fill="#ef5350"/>
<rect x="678" y="430" width="4" height="22" fill="#26a69a"/>
<rect x="684" y="431" width="4" height="10" fill="#ef5350"/>
<rect x="690" y="440" width="4" height="11" fill="#ef5350"/>
<rect x="696" y="451" width="4" height="22" fill="#ef5350"/>
<rect x="701" y="473" width="4" height="78" fill="#ef5350"/>
<rect x="707" y="551" width="4" height="4" fill="#ef5350"/>
<rect x="713" y="554" width="4" height="94" fill="#ef5350"/>
<rect x="719" y="613" width="4" height="35" fill="#26a69a"/>
<rect x="725" y="613" width="4" height="15" fill="#ef5350"/>
<rect x="731" y="628" width="4" height="22" fill="#ef5350"/>
<rect x="737" y="622" width="4" height="28" fill="#26a69a"/>
<rect x="743" y="600" width="4" height="23" fill="#26a69a"/>
<rect x="748" y="563" width="4" height="38" fill="#26a69a"/>
<rect x="754" y="556" width="4" height="7" fill="#26a69a"/>
<rect x="760" y="556" width="4" height="31" fill="#ef5350"/>
<rect x="766" y="587" width="4" height="16" fill="#ef5350"/>
<rect x="772" y="550" width="4" height="53" fill="#26a69a"/>
<rect x="778" y="550" width="4" height="32" fill="#ef5350"/>
<rect x="784" y="582" width="4" height="31" fill="#ef5350"/>
<rect x="790" y="613" width="4" height="51" fill="#ef5350"/>
<rect x="795" y="642" width="4" height="22" fill="#26a69a"/>
<rect x="801" y="605" width="4" height="37" fill="#26a69a"/>
<rect x="807" y="586" width="4" height="19" fill="#26a69a"/>
<rect x="813" y="586" width="4" height="18" fill="#ef5350"/>
<rect x="819" y="603" width="4" height="7" fill="#ef5350"/>
<rect x="825" y="585" width="4" height="25" fill="#26a69a"/>
<rect x="831" y="585" width="4" height="1" fill="#ef5350"/>
<rect x="837" y="551" width="4" height="35" fill="#26a69a"/>
<rect x="842" y="548" width="4" height="3" fill="#26a69a"/>
<rect x="848" y="547" width="4" height="16" fill="#ef5350"/>
<rect x="854" y="560" width="4" height="3" fill="#26a69a"/>
<rect x="860" y="537" width="4" height="24" fill="#26a69a"/>
<rect x="866" y="529" width="4" height="8" fill="#26a69a"/>
<rect x="872" y="529" width="4" height="10" fill="#ef5350"/>
<rect x="878" y="538" width="4" height="38" fill="#ef5350"/>
<rect x="883" y="575" width="4" height="37" fill="#ef5350"/>
<rect x="889" y="598" width="4" height="14" fill="#26a69a"/>
<rect x="895" y="585" width="4" height="14" fill="#26a69a"/>
<rect x="901" y="578" width="4" height="8" fill="#26a69a"/>
<rect x="907" y="578" width="4" height="20" fill="#ef5350"/>
<rect x="913" y="535" width="4" height="63" fill="#26a69a"/>
<rect x="919" y="535" width="4" height="1" fill="#26a69a"/>
<rect x="925" y="535" width="4" height="13" fill="#ef5350"/>
<rect x="930" y="548" width="4" height="11" fill="#ef5350"/>
<rect x="936" y="550" width="4" height="9" fill="#26a69a"/>
<rect x="942" y="537" width="4" height="14" fill="#26a69a"/>
<rect x="948" y="537" width="4" height="8" fill="#ef5350"/>
<rect x="954" y="540" width="4" height="5" fill="#26a69a"/>
<rect x="960" y="529" width="4" height="12" fill="#26a69a"/>
<rect x="966" y="530" width="4" height="3" fill="#ef5350"/>
<rect x="972" y="533" width="4" height="19" fill="#ef5350"/>
<rect x="977" y="545" width="4" height="7" fill="#26a69a"/>
<rect x="983" y="536" width="4" height="9" fill="#26a69a"/>
<rect x="989" y="536" width="4" height="18" fill="#ef5350"/>
<rect x="995" y="544" width="4" height="11" fill="#26a69a"/>
<rect x="1001" y="544" width="4" height="3" fill="#ef5350"/>
<rect x="1007" y="547" width="4" height="12" fill="#ef5350"/>
<rect x="1013" y="559" width="4" height="20" fill="#ef5350"/>
<rect x="1019" y="569" width="4" height="10" fill="#26a69a"/>
<rect x="1024" y="569" width="4" height="21" fill="#ef5350"/>
<rect x="1030" y="585" width="4" height="5" fill="#26a69a"/>
<rect x="1036" y="582" width="4" height="3" fill="#26a69a"/>
<rect x="1042" y="565" width="4" height="18" fill="#26a69a"/>
<rect x="1048" y="552" width="4" height="13" fill="#26a69a"/>
<rect x="1054" y="553" width="4" height="24" fill="#ef5350"/>
<rect x="1060" y="551" width="4" height="26" fill="#26a69a"/>
<rect x="1065" y="551" width="4" height="5" fill="#ef5350"/>
<rect x="1071" y="553" width="4" height="3" fill="#26a69a"/>
<rect x="1077" y="552" width="4" height="1" fill="#26a69a"/>
<rect x="1083" y="552" width="4" height="2" fill="#ef5350"/>
<rect x="1089" y="549" width="4" height="5" fill="#26a69a"/>
<rect x="1095" y="549" width="4" height="3" fill="#ef5350"/>
</g>
<line x1="821" x2="1466" y1="624.5" y2="624.5" stroke="#131722" stroke-width="1"/>
<line x1="721" x2="1466" y1="688.5" y2="688.5" stroke="#131722" stroke-width="1"/>
<rect x="715.4" y="688" width="253.4" height="20" fill="rgb(255,152,0)" fill-opacity="0.22"/>
</svg>
<div class="t" style="left:8.60px;transform-origin:0 50%;top:3.91px;font-size:11.8px;line-height:20px;color:#434651;font-weight:normal;transform:scaleX(0.8950);">CryptoFXStreet published on TradingView.com, Feb 02, 2022 08:12 UTC+5:30</div>
<div class="t" style="left:16.20px;transform-origin:0 50%;top:27.32px;font-size:11.2px;line-height:20px;color:#2a2e39;font-weight:normal;transform:scaleX(0.9300);">BNB Perpetual Futures, 4h, FTX</div>
<div class="t" style="left:172.90px;transform-origin:0 50%;top:27.32px;font-size:11.2px;line-height:20px;color:#2a2e39;font-weight:normal;transform:scaleX(0.9300);">O</div>
<div class="t" style="left:180.70px;transform-origin:0 50%;top:27.32px;font-size:11.2px;line-height:20px;color:#ef5350;font-weight:normal;transform:scaleX(0.9300);">384.2550</div>
<div class="t" style="left:229.80px;transform-origin:0 50%;top:27.32px;font-size:11.2px;line-height:20px;color:#2a2e39;font-weight:normal;transform:scaleX(0.9300);">H</div>
<div class="t" style="left:237.00px;transform-origin:0 50%;top:27.32px;font-size:11.2px;line-height:20px;color:#ef5350;font-weight:normal;transform:scaleX(0.9300);">385.1175</div>
<div class="t" style="left:286.50px;transform-origin:0 50%;top:27.32px;font-size:11.2px;line-height:20px;color:#2a2e39;font-weight:normal;transform:scaleX(0.9300);">L</div>
<div class="t" style="left:292.00px;transform-origin:0 50%;top:27.32px;font-size:11.2px;line-height:20px;color:#ef5350;font-weight:normal;transform:scaleX(0.9300);">380.6375</div>
<div class="t" style="left:341.40px;transform-origin:0 50%;top:27.32px;font-size:11.2px;line-height:20px;color:#2a2e39;font-weight:normal;transform:scaleX(0.9300);">C</div>
<div class="t" style="left:348.20px;transform-origin:0 50%;top:27.32px;font-size:11.2px;line-height:20px;color:#ef5350;font-weight:normal;transform:scaleX(0.9300);">383.5825</div>
<div class="t" style="left:397.50px;transform-origin:0 50%;top:27.32px;font-size:11.2px;line-height:20px;color:#ef5350;font-weight:normal;transform:scaleX(0.9000);">−0.6725 (−0.18%)</div>
<div class="t" style="left:729.30px;transform-origin:0 50%;top:417.59px;font-size:13.3px;line-height:20px;color:#131722;font-weight:normal;transform:scaleX(0.8800);">FVG</div>
<div class="t" style="right:17.00px;transform-origin:100% 50%;top:43.76px;font-size:11.2px;line-height:20px;color:#434651;font-weight:normal;transform:scaleX(0.9500);">620.0000</div>
<div class="t" style="right:17.00px;transform-origin:100% 50%;top:77.78px;font-size:11.2px;line-height:20px;color:#434651;font-weight:normal;transform:scaleX(0.9500);">600.0000</div>
<div class="t" style="right:17.00px;transform-origin:100% 50%;top:112.95px;font-size:11.2px;line-height:20px;color:#434651;font-weight:normal;transform:scaleX(0.9500);">580.0000</div>
<div class="t" style="right:17.00px;transform-origin:100% 50%;top:149.36px;font-size:11.2px;line-height:20px;color:#434651;font-weight:normal;transform:scaleX(0.9500);">560.0000</div>
<div class="t" style="right:17.00px;transform-origin:100% 50%;top:187.09px;font-size:11.2px;line-height:20px;color:#434651;font-weight:normal;transform:scaleX(0.9500);">540.0000</div>
<div class="t" style="right:17.00px;transform-origin:100% 50%;top:226.24px;font-size:11.2px;line-height:20px;color:#434651;font-weight:normal;transform:scaleX(0.9500);">520.0000</div>
<div class="t" style="right:17.00px;transform-origin:100% 50%;top:266.93px;font-size:11.2px;line-height:20px;color:#434651;font-weight:normal;transform:scaleX(0.9500);">500.0000</div>
<div class="t" style="right:17.00px;transform-origin:100% 50%;top:309.29px;font-size:11.2px;line-height:20px;color:#434651;font-weight:normal;transform:scaleX(0.9500);">480.0000</div>
<div class="t" style="right:17.00px;transform-origin:100% 50%;top:353.44px;font-size:11.2px;line-height:20px;color:#434651;font-weight:normal;transform:scaleX(0.9500);">460.0000</div>
<div class="t" style="right:17.00px;transform-origin:100% 50%;top:399.56px;font-size:11.2px;line-height:20px;color:#434651;font-weight:normal;transform:scaleX(0.9500);">440.0000</div>
<div class="t" style="right:17.00px;transform-origin:100% 50%;top:435.55px;font-size:11.2px;line-height:20px;color:#434651;font-weight:normal;transform:scaleX(0.9500);">425.0000</div>
<div class="t" style="right:17.00px;transform-origin:100% 50%;top:472.82px;font-size:11.2px;line-height:20px;color:#434651;font-weight:normal;transform:scaleX(0.9500);">410.0000</div>
<div class="t" style="right:17.00px;transform-origin:100% 50%;top:503.64px;font-size:11.2px;line-height:20px;color:#434651;font-weight:normal;transform:scaleX(0.9500);">398.0000</div>
<div class="t" style="right:17.00px;transform-origin:100% 50%;top:535.41px;font-size:11.2px;line-height:20px;color:#434651;font-weight:normal;transform:scaleX(0.9500);">386.0000</div>
<div class="t" style="right:17.00px;transform-origin:100% 50%;top:568.17px;font-size:11.2px;line-height:20px;color:#434651;font-weight:normal;transform:scaleX(0.9500);">374.0000</div>
<div class="t" style="right:17.00px;transform-origin:100% 50%;top:602.01px;font-size:11.2px;line-height:20px;color:#434651;font-weight:normal;transform:scaleX(0.9500);">362.0000</div>
<div class="t" style="right:17.00px;transform-origin:100% 50%;top:631.07px;font-size:11.2px;line-height:20px;color:#434651;font-weight:normal;transform:scaleX(0.9500);">352.0000</div>
<div class="t" style="right:17.00px;transform-origin:100% 50%;top:660.97px;font-size:11.2px;line-height:20px;color:#434651;font-weight:normal;transform:scaleX(0.9500);">342.0000</div>
<div class="t" style="right:17.00px;transform-origin:100% 50%;top:691.76px;font-size:11.2px;line-height:20px;color:#434651;font-weight:normal;transform:scaleX(0.9500);">332.0000</div>
<div class="t" style="right:17.00px;transform-origin:100% 50%;top:723.49px;font-size:11.2px;line-height:20px;color:#434651;font-weight:normal;transform:scaleX(0.9500);">322.0000</div>
<div class="t" style="right:17.00px;transform-origin:100% 50%;top:752.90px;font-size:11.2px;line-height:20px;color:#434651;font-weight:normal;transform:scaleX(0.9500);">313.0000</div>
<div class="t" style="right:17.00px;transform-origin:100% 50%;top:779.76px;font-size:11.2px;line-height:20px;color:#434651;font-weight:normal;transform:scaleX(0.9500);">305.0000</div>
<div class="t" style="right:17.00px;transform-origin:100% 50%;top:807.34px;font-size:11.2px;line-height:20px;color:#434651;font-weight:normal;transform:scaleX(0.9500);clip-path:inset(0 0 10.3px 0);">297.0000</div>
<div class="t" style="left:1484px;top:29.3px;width:25.5px;height:16.2px;border:1px solid #e0e3eb;border-radius:3.5px;background:#fff"></div>
<div class="t" style="left:1396.90px;width:200px;text-align:center;transform-origin:50% 50%;top:27.25px;font-size:11.1px;line-height:20px;color:#2a2e39;font-weight:normal;transform:scaleX(0.8500);">USD</div>
<div class="t" style="left:1466px;top:214.7px;width:58.5px;height:14.800000000000011px;background:#fabb2a;border-radius:0 2px 2px 0"></div>
<div class="t" style="right:16.70px;transform-origin:100% 50%;top:212.42px;font-size:11.2px;line-height:20px;color:#131722;font-weight:normal;transform:scaleX(0.9500);">527.0050</div>
<div class="t" style="left:1466px;top:326.2px;width:58.5px;height:15.199999999999989px;background:#2962ff;border-radius:0 2px 2px 0"></div>
<div class="t" style="right:16.70px;transform-origin:100% 50%;top:324.32px;font-size:11.2px;line-height:20px;color:#fff;font-weight:normal;transform:scaleX(0.9500);">470.6050</div>
<div class="t" style="left:1466px;top:341.4px;width:58.5px;height:15.0px;background:#801922;border-radius:0 2px 2px 0"></div>
<div class="t" style="right:16.70px;transform-origin:100% 50%;top:339.32px;font-size:11.2px;line-height:20px;color:#fff;font-weight:normal;transform:scaleX(0.9500);">466.6825</div>
<div class="t" style="left:1466px;top:545px;width:58.5px;height:27.600000000000023px;background:#ef5350;border-radius:0 2px 2px 0"></div>
<div class="t" style="right:16.70px;transform-origin:100% 50%;top:542.92px;font-size:11.2px;line-height:20px;color:#fff;font-weight:normal;transform:scaleX(0.9500);">383.5825</div>
<div class="t" style="left:1475.10px;transform-origin:0 50%;top:555.82px;font-size:11.2px;line-height:20px;color:#fff;font-weight:normal;transform:scaleX(1.0300);">01:17:56</div>
<div class="t" style="left:1466px;top:618.8px;width:58.5px;height:13.700000000000045px;background:#000;border-radius:0 2px 2px 0"></div>
<div class="t" style="right:16.70px;transform-origin:100% 50%;top:615.32px;font-size:11.2px;line-height:20px;color:#fff;font-weight:normal;transform:scaleX(0.9500);">357.4550</div>
<div class="t" style="left:1466px;top:681.5px;width:58.5px;height:14.100000000000023px;background:#000;border-radius:0 2px 2px 0"></div>
<div class="t" style="right:16.70px;transform-origin:100% 50%;top:678.42px;font-size:11.2px;line-height:20px;color:#fff;font-weight:normal;transform:scaleX(0.9500);">336.3025</div>
<div class="t" style="left:-30.59px;width:200px;text-align:center;transform-origin:50% 50%;top:820.32px;font-size:11.2px;line-height:20px;color:#131722;font-weight:normal;transform:scaleX(0.9500);">4</div>
<div class="t" style="left:75.09px;width:200px;text-align:center;transform-origin:50% 50%;top:820.32px;font-size:11.2px;line-height:20px;color:#131722;font-weight:normal;transform:scaleX(0.9500);">7</div>
<div class="t" style="left:180.77px;width:200px;text-align:center;transform-origin:50% 50%;top:820.32px;font-size:11.2px;line-height:20px;color:#131722;font-weight:normal;transform:scaleX(0.9500);">10</div>
<div class="t" style="left:286.44px;width:200px;text-align:center;transform-origin:50% 50%;top:820.32px;font-size:11.2px;line-height:20px;color:#131722;font-weight:normal;transform:scaleX(0.9500);">13</div>
<div class="t" style="left:427.35px;width:200px;text-align:center;transform-origin:50% 50%;top:820.32px;font-size:11.2px;line-height:20px;color:#131722;font-weight:normal;transform:scaleX(0.9500);">17</div>
<div class="t" style="left:533.03px;width:200px;text-align:center;transform-origin:50% 50%;top:820.32px;font-size:11.2px;line-height:20px;color:#131722;font-weight:normal;transform:scaleX(0.9500);">20</div>
<div class="t" style="left:673.93px;width:200px;text-align:center;transform-origin:50% 50%;top:820.32px;font-size:11.2px;line-height:20px;color:#131722;font-weight:normal;transform:scaleX(0.9500);">24</div>
<div class="t" style="left:779.61px;width:200px;text-align:center;transform-origin:50% 50%;top:820.32px;font-size:11.2px;line-height:20px;color:#131722;font-weight:normal;transform:scaleX(0.9500);">27</div>
<div class="t" style="left:867.67px;width:200px;text-align:center;transform-origin:50% 50%;top:820.32px;font-size:11.2px;line-height:20px;color:#50535e;font-weight:normal;transform:scaleX(0.9500);">13:30</div>
<div class="t" style="left:955.74px;width:200px;text-align:center;transform-origin:50% 50%;top:820.32px;font-size:11.2px;line-height:20px;color:#131722;font-weight:bold;transform:scaleX(0.9500);">Feb</div>
<div class="t" style="left:1061.42px;width:200px;text-align:center;transform-origin:50% 50%;top:820.32px;font-size:11.2px;line-height:20px;color:#131722;font-weight:normal;transform:scaleX(0.9500);">4</div>
<div class="t" style="left:1167.09px;width:200px;text-align:center;transform-origin:50% 50%;top:820.32px;font-size:11.2px;line-height:20px;color:#131722;font-weight:normal;transform:scaleX(0.9500);">7</div>
<div class="t" style="left:1272.77px;width:200px;text-align:center;transform-origin:50% 50%;top:820.32px;font-size:11.2px;line-height:20px;color:#131722;font-weight:normal;transform:scaleX(0.9500);">10</div>
<svg width="1536" height="873" style="position:absolute;left:0;top:0">
<rect x="8.5" y="23.5" width="1519" height="818" fill="none" stroke="#e4e6ec" stroke-width="1"/>
<line x1="1466" x2="1466" y1="23.5" y2="842" stroke="#e3e4e8" stroke-width="1.3"/>
<line x1="8.5" x2="1527" y1="817.8" y2="817.8" stroke="#e3e4e8" stroke-width="1.3"/>
</svg>
<svg class="t" style="left:8px;top:852px" width="19" height="10" viewBox="0 0 19 10"><path d="M0.8 0.4h6.8v8.9h-3.4v-5.9h-3.4z" fill="#131722"/><circle cx="10.7" cy="2.0" r="1.55" fill="#131722"/><path d="M13.5 0.4h4.5l-2.9 8.9h-3.9z" fill="#131722"/></svg>
<div class="t" style="left:30.00px;transform-origin:0 50%;top:847.64px;font-size:12px;line-height:20px;color:#50535e;font-weight:normal;transform:scaleX(0.9450);">TradingView</div>
</body></html>
